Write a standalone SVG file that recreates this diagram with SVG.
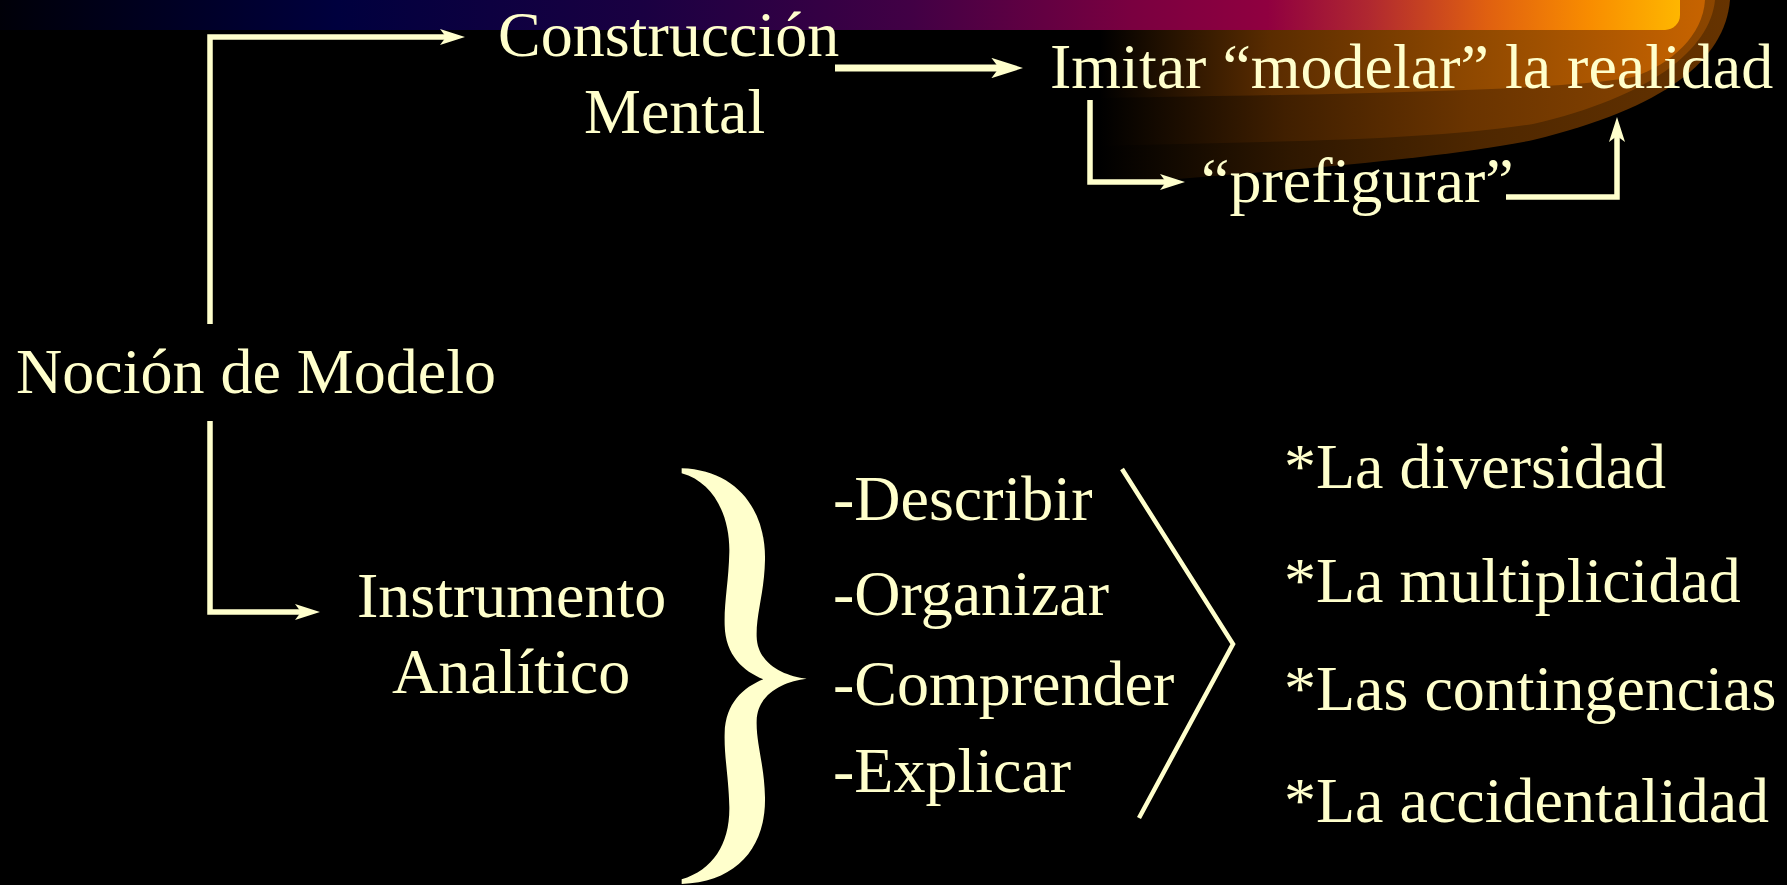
<svg xmlns="http://www.w3.org/2000/svg" width="1787" height="885" viewBox="0 0 1787 885">
  <defs>
    <style>
      .t { font-family: "Liberation Serif", "Times New Roman", serif; font-size: 64px; fill: #FFFFCC; }
      .c { fill: none; stroke: #FFFFCC; stroke-width: 5.5; stroke-linejoin: miter; stroke-linecap: butt; }
      .thick { stroke-width: 7; }
    </style>
    <linearGradient id="barGrad" gradientUnits="userSpaceOnUse" x1="0" y1="0" x2="1690" y2="0">
      <stop offset="0" stop-color="#000008"/>
      <stop offset="0.2" stop-color="#00003e"/>
      <stop offset="0.38" stop-color="#1a0042"/>
      <stop offset="0.54" stop-color="#420045"/>
      <stop offset="0.67" stop-color="#7a0040"/>
      <stop offset="0.75" stop-color="#900040"/>
      <stop offset="0.81" stop-color="#b02830"/>
      <stop offset="0.88" stop-color="#e06010"/>
      <stop offset="0.94" stop-color="#f88c00"/>
      <stop offset="1" stop-color="#ffbb00"/>
    </linearGradient>
    <linearGradient id="l1" gradientUnits="userSpaceOnUse" x1="1100" y1="0" x2="1710" y2="0">
      <stop offset="0" stop-color="#000000"/>
      <stop offset="0.28" stop-color="#5a2c00"/>
      <stop offset="0.6" stop-color="#8e4800"/>
      <stop offset="1" stop-color="#c86400"/>
    </linearGradient>
    <linearGradient id="l2" gradientUnits="userSpaceOnUse" x1="1100" y1="0" x2="1715" y2="0">
      <stop offset="0" stop-color="#000000"/>
      <stop offset="0.3" stop-color="#401f00"/>
      <stop offset="0.6" stop-color="#6a3400"/>
      <stop offset="1" stop-color="#8c4600"/>
    </linearGradient>
    <linearGradient id="l3" gradientUnits="userSpaceOnUse" x1="1100" y1="0" x2="1730" y2="0">
      <stop offset="0" stop-color="#000000"/>
      <stop offset="0.3" stop-color="#2e1700"/>
      <stop offset="0.6" stop-color="#4e2700"/>
      <stop offset="1" stop-color="#663300"/>
    </linearGradient>
    <marker id="arr" markerUnits="strokeWidth" viewBox="0 -8 25 16" markerWidth="4.545" markerHeight="2.909" refX="6" refY="0" orient="auto">
      <path d="M0,-8 L25,0 L0,8 L6,0 Z" fill="#FFFFCC"/>
    </marker>
  </defs>

  <rect x="0" y="0" width="1787" height="885" fill="#000000"/>

  <g id="decoration">
    <path d="M1100 0 H1730 C1725 60 1665 108 1533 140 C1450 157 1300 170 1100 185 Z" fill="url(#l3)"/>
    <path d="M1100 0 H1715 C1710 50 1650 97 1533 124 C1430 140 1300 141 1100 146 Z" fill="url(#l2)"/>
    <path d="M1100 0 H1705 C1703 35 1672 64 1633 77 C1580 87 1450 93 1100 98 Z" fill="url(#l1)"/>
    <rect x="-20" y="-20" width="1700" height="50" rx="15" ry="15" fill="url(#barGrad)"/>
  </g>

  <g id="connectors">
    <path class="c" d="M210 324 V37 H446" marker-end="url(#arr)"/>
    <path class="c" d="M210 421 V612 H301" marker-end="url(#arr)"/>
    <path class="c thick" d="M835 68 H999" marker-end="url(#arr)"/>
    <path class="c" d="M1090 100 V182 H1166" marker-end="url(#arr)"/>
    <path class="c" d="M1506 197 H1617 V136" marker-end="url(#arr)"/>
    <polyline fill="none" stroke="#FFFFCC" stroke-width="4.5" points="1122,469 1233,644 1139,818"/>
    <path fill="#FFFFCC" transform="translate(650,450) scale(0.33333)" d="M95 55 C260 60 348 180 345 330 C343 430 318 490 320 560 C322 640 400 678 470 686 C400 694 322 732 320 812 C318 882 343 942 345 1042 C348 1192 260 1297 95 1302 L95 1288 C190 1260 240 1180 238 1070 C236 980 222 920 224 850 C226 760 280 712 340 688 C280 664 226 616 224 526 C222 456 236 396 238 306 C240 196 190 96 95 70 Z"/>
  </g>

  <g id="nocion"><text class="t" x="16" y="393">Noción de Modelo</text></g>
  <g id="construccion">
    <text class="t" x="498" y="56">Construcción</text>
    <text class="t" x="584" y="133">Mental</text>
  </g>
  <g id="imitar"><text class="t" x="1050" y="88">Imitar “modelar” la realidad</text></g>
  <g id="prefigurar"><text class="t" x="1201" y="202">“prefigurar”</text></g>
  <g id="instrumento">
    <text class="t" x="357" y="617">Instrumento</text>
    <text class="t" x="392" y="693">Analítico</text>
  </g>
  <g id="acciones">
    <text class="t" x="833" y="520">-Describir</text>
    <text class="t" x="833" y="615">-Organizar</text>
    <text class="t" x="833" y="705">-Comprender</text>
    <text class="t" x="833" y="792">-Explicar</text>
  </g>
  <g id="objetos">
    <text class="t" x="1284" y="488">*La diversidad</text>
    <text class="t" x="1284" y="602">*La multiplicidad</text>
    <text class="t" x="1284" y="710">*Las contingencias</text>
    <text class="t" x="1284" y="822">*La accidentalidad</text>
  </g>
</svg>
